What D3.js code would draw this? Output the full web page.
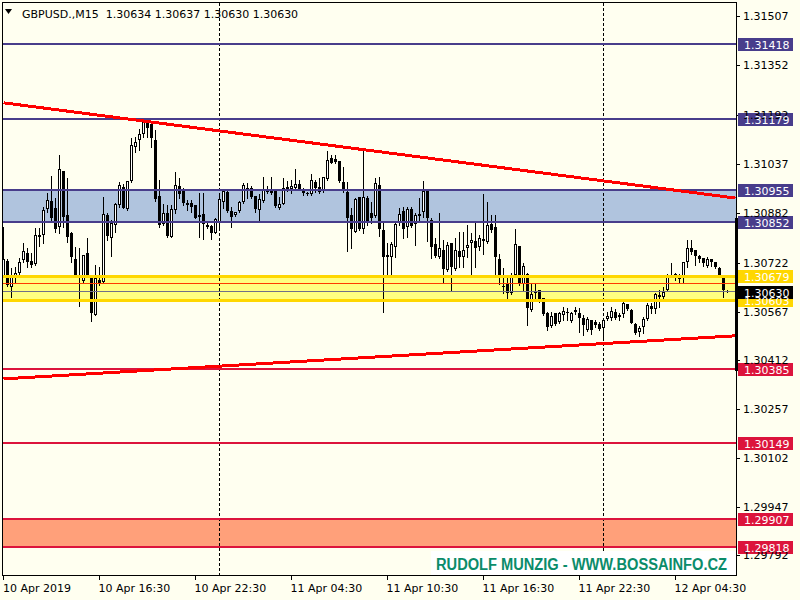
<!DOCTYPE html>
<html><head><meta charset="utf-8">
<script src="https://cdn.jsdelivr.net/npm/d3@7/dist/d3.min.js"></script>
<style>html,body{margin:0;padding:0;background:#FFFFF0;}svg{display:block;}</style>
</head><body><svg id="c" width="800" height="600"></svg>
<script>
// ---------- DATA ----------
const title = "GBPUSD.,M15  1.30634 1.30637 1.30630 1.30630";
const opens = [1.30680,1.30728,1.30645,1.30674,1.30690,1.30731,1.30753,1.30728,1.30718,1.30804,
1.30811,1.30893,1.30919,1.30897,1.30836,1.31014,1.30874,1.30817,1.30734,1.30680,
1.30664,1.30753,1.30680,1.30556,1.30668,1.30661,1.30874,1.30801,1.30842,1.30906,
1.30963,1.30893,1.30982,1.31091,1.31113,1.31132,1.31176,1.31164,1.31113,1.30935,
1.30846,1.30881,1.30804,1.30890,1.30967,1.30951,1.30912,1.30912,1.30906,1.30874,
1.30877,1.30842,1.30839,1.30817,1.30852,1.30916,1.30947,1.30887,1.30874,1.30887,
1.30916,1.30960,1.30960,1.30935,1.30890,1.30919,1.30957,1.30957,1.30951,1.30897,
1.30909,1.30963,1.30957,1.30960,1.30973,1.30954,1.30944,1.30941,1.30979,1.30963,
1.30951,1.30989,1.31056,1.31052,1.31046,1.30979,1.30947,1.30874,1.30820,1.30932,
1.30830,1.30928,1.30881,1.30871,1.30970,1.30827,1.30747,1.30741,1.30773,1.30849,
1.30887,1.30836,1.30893,1.30846,1.30877,1.30884,1.30954,1.30858,1.30782,1.30741,
1.30763,1.30699,1.30785,1.30703,1.30760,1.30741,1.30769,1.30785,1.30792,1.30773,
1.30798,1.30788,1.30846,1.30836,1.30734,1.30649,1.30655,1.30626,1.30684,1.30776,
1.30655,1.30687,1.30572,1.30633,1.30636,1.30610,1.30563,1.30521,1.30563,1.30534,
1.30556,1.30566,1.30537,1.30566,1.30563,1.30547,1.30509,1.30540,1.30534,1.30528,
1.30515,1.30544,1.30547,1.30566,1.30550,1.30559,1.30591,1.30572,1.30528,1.30502,
1.30518,1.30544,1.30585,1.30575,1.30620,1.30614,1.30636,1.30684,1.30687,1.30684,
1.30674,1.30725,1.30769,1.30763,1.30744,1.30738,1.30712,1.30734,1.30725,1.30706,
1.30677,1.30634];
const highs = [1.30836,1.30734,1.30706,1.30709,1.30738,1.30785,1.30769,1.30753,1.30833,1.30833,
1.30900,1.30944,1.30998,1.30928,1.31065,1.31014,1.30992,1.30820,1.30773,1.30769,
1.30747,1.30801,1.30680,1.30715,1.30709,1.30932,1.30881,1.30858,1.30912,1.30979,
1.30973,1.30982,1.31119,1.31122,1.31148,1.31183,1.31180,1.31170,1.31145,1.30986,
1.30909,1.30906,1.30906,1.31011,1.30992,1.30960,1.30922,1.30922,1.30906,1.30944,
1.30944,1.30849,1.30842,1.30865,1.30938,1.30954,1.30951,1.30900,1.30884,1.30919,
1.30976,1.30976,1.30967,1.30935,1.30941,1.30995,1.30967,1.30995,1.30951,1.30932,
1.30992,1.30982,1.30986,1.31021,1.30986,1.30960,1.30947,1.31005,1.30986,1.30992,
1.30995,1.31078,1.31065,1.31065,1.31046,1.31027,1.30979,1.30897,1.30928,1.30932,
1.31081,1.30935,1.30916,1.30992,1.30995,1.30849,1.30785,1.30788,1.30852,1.30897,
1.30900,1.30900,1.30900,1.30881,1.30928,1.30982,1.30957,1.30865,1.30801,1.30881,
1.30795,1.30788,1.30785,1.30801,1.30820,1.30820,1.30842,1.30817,1.30849,1.30811,
1.30941,1.30916,1.30874,1.30874,1.30750,1.30706,1.30674,1.30690,1.30830,1.30776,
1.30722,1.30690,1.30658,1.30658,1.30636,1.30610,1.30566,1.30566,1.30563,1.30566,
1.30582,1.30579,1.30566,1.30582,1.30579,1.30556,1.30550,1.30540,1.30540,1.30534,
1.30544,1.30566,1.30582,1.30575,1.30563,1.30601,1.30591,1.30575,1.30531,1.30521,
1.30550,1.30594,1.30594,1.30626,1.30636,1.30645,1.30687,1.30722,1.30690,1.30687,
1.30725,1.30795,1.30795,1.30763,1.30747,1.30738,1.30741,1.30734,1.30725,1.30709,
1.30684,1.30637];
const lows = [1.30677,1.30649,1.30614,1.30658,1.30684,1.30725,1.30709,1.30709,1.30715,1.30776,
1.30785,1.30884,1.30858,1.30820,1.30817,1.30836,1.30788,1.30725,1.30677,1.30585,
1.30661,1.30677,1.30537,1.30556,1.30652,1.30661,1.30795,1.30744,1.30820,1.30900,
1.30897,1.30890,1.30979,1.31075,1.31081,1.31122,1.31122,1.31091,1.30919,1.30836,
1.30842,1.30804,1.30804,1.30881,1.30928,1.30906,1.30890,1.30884,1.30865,1.30804,
1.30798,1.30833,1.30798,1.30817,1.30836,1.30897,1.30884,1.30836,1.30871,1.30884,
1.30912,1.30928,1.30928,1.30884,1.30858,1.30916,1.30944,1.30941,1.30900,1.30893,
1.30909,1.30951,1.30944,1.30954,1.30954,1.30938,1.30938,1.30938,1.30947,1.30944,
1.30947,1.30986,1.31040,1.31040,1.30979,1.30947,1.30760,1.30769,1.30820,1.30827,
1.30817,1.30842,1.30849,1.30868,1.30808,1.30566,1.30680,1.30677,1.30741,1.30842,
1.30801,1.30804,1.30836,1.30779,1.30855,1.30868,1.30792,1.30738,1.30741,1.30738,
1.30661,1.30696,1.30636,1.30699,1.30709,1.30709,1.30741,1.30677,1.30709,1.30763,
1.30750,1.30785,1.30820,1.30684,1.30655,1.30626,1.30604,1.30623,1.30677,1.30652,
1.30636,1.30525,1.30569,1.30604,1.30598,1.30556,1.30509,1.30518,1.30525,1.30531,
1.30540,1.30540,1.30534,1.30559,1.30502,1.30493,1.30505,1.30496,1.30518,1.30509,
1.30483,1.30540,1.30540,1.30544,1.30540,1.30550,1.30572,1.30531,1.30496,1.30490,
1.30499,1.30540,1.30563,1.30563,1.30582,1.30607,1.30633,1.30680,1.30668,1.30658,
1.30658,1.30709,1.30750,1.30715,1.30725,1.30712,1.30709,1.30712,1.30706,1.30677,
1.30614,1.30630];
const closes = [1.30734,1.30652,1.30680,1.30690,1.30725,1.30760,1.30725,1.30715,1.30811,1.30811,
1.30890,1.30922,1.30865,1.30830,1.31021,1.30868,1.30804,1.30741,1.30680,1.30674,
1.30747,1.30684,1.30563,1.30674,1.30658,1.30877,1.30808,1.30849,1.30909,1.30970,
1.30897,1.30982,1.31097,1.31106,1.31132,1.31180,1.31151,1.31119,1.30925,1.30842,
1.30881,1.30808,1.30893,1.30970,1.30941,1.30912,1.30906,1.30900,1.30865,1.30868,
1.30846,1.30836,1.30817,1.30862,1.30925,1.30951,1.30887,1.30868,1.30884,1.30916,
1.30970,1.30951,1.30932,1.30893,1.30925,1.30954,1.30947,1.30944,1.30903,1.30909,
1.30960,1.30954,1.30967,1.30973,1.30957,1.30944,1.30941,1.30986,1.30960,1.30947,
1.30995,1.31049,1.31040,1.31043,1.30982,1.30954,1.30865,1.30830,1.30925,1.30830,
1.30932,1.30852,1.30865,1.30976,1.30830,1.30741,1.30741,1.30782,1.30846,1.30877,
1.30830,1.30893,1.30839,1.30874,1.30871,1.30951,1.30865,1.30773,1.30744,1.30769,
1.30703,1.30779,1.30709,1.30763,1.30741,1.30763,1.30779,1.30795,1.30769,1.30801,
1.30792,1.30842,1.30827,1.30741,1.30680,1.30645,1.30626,1.30677,1.30782,1.30655,
1.30712,1.30579,1.30623,1.30626,1.30601,1.30559,1.30518,1.30553,1.30528,1.30563,
1.30569,1.30563,1.30563,1.30572,1.30547,1.30525,1.30544,1.30509,1.30525,1.30512,
1.30540,1.30553,1.30569,1.30547,1.30556,1.30594,1.30575,1.30531,1.30499,1.30515,
1.30544,1.30588,1.30575,1.30623,1.30614,1.30629,1.30684,1.30680,1.30677,1.30671,
1.30725,1.30769,1.30757,1.30744,1.30734,1.30722,1.30734,1.30725,1.30709,1.30684,
1.30636,1.30630];

const timeTickBars = [0, 24, 48, 72, 96, 120, 144, 168];
const timeTickLabels = ["10 Apr 2019","10 Apr 16:30","10 Apr 22:30","11 Apr 04:30","11 Apr 10:30","11 Apr 16:30","11 Apr 22:30","12 Apr 04:30"];
const daySeparatorBars = [54, 150];
const priceTicks = [1.31507,1.31352,1.31192,1.31037,1.30882,1.30722,1.30567,1.30412,1.30257,1.30102,1.29947,1.29792];
const blueLevels = [1.31418, 1.31179, 1.30955, 1.30852];
const blueZone = [1.30852, 1.30955];
const goldLevels = [1.30679, 1.30603];
const goldZone = [1.30603, 1.30679];
const redLevels = [1.30385, 1.30149, 1.29907, 1.29818];
const salmonZone = [1.29818, 1.29907];
const innerRedLevel = 1.30655;
const bidPrice = 1.30630;
const upperTrend = [[0, 1.31231], [183, 1.30928]];
const lowerTrend = [[0, 1.30353], [183, 1.30490]];
const rangeBar = [1.30378, 1.30864];
const watermark = "RUDOLF MUNZIG - WWW.BOSSAINFO.CZ";

// ---------- DRAW ----------
const svg = d3.select("#c");
const FONT = "'DejaVu Sans', Verdana, sans-serif";
const L = 3, R = 736, T = 3, B = 575;
const x = d3.scaleLinear().domain([0, 183]).range([3.5, 735.5]);
const y = d3.scaleLinear().domain([1.30149, 1.31418]).range([443, 44]);
const yr = p => Math.round(y(p));
const fmt = d3.format(".5f");

svg.append("rect").attr("width", 800).attr("height", 600).attr("fill", "#FFFFF0");

const g = svg.append("g").attr("shape-rendering", "crispEdges");

// zones (background)
[[blueZone, "#B0C4DE"], [goldZone, "#FFFF80"], [salmonZone, "#FFA07A"]].forEach(([z, c]) => {
  g.append("rect").attr("x", L).attr("width", R - L)
    .attr("y", yr(z[1])).attr("height", yr(z[0]) - yr(z[1])).attr("fill", c);
});

// day separators
g.selectAll("line.sep").data(daySeparatorBars).join("line").attr("class", "sep")
  .attr("x1", d => x(d)).attr("x2", d => x(d)).attr("y1", T).attr("y2", B)
  .attr("stroke", "#000").attr("stroke-width", 1).attr("stroke-dasharray", "3,2");

// candles
const bars = d3.range(opens.length).map(i => ({i, o: opens[i], h: highs[i], l: lows[i], c: closes[i]}));
const cg = g.append("g");
bars.forEach(b => {
  const cx = x(b.i);
  cg.append("line").attr("x1", cx).attr("x2", cx).attr("y1", yr(b.h)).attr("y2", yr(b.l) + 1)
    .attr("stroke", "#000").attr("stroke-width", 1);
  const top = yr(Math.max(b.o, b.c)), bot = yr(Math.min(b.o, b.c));
  if (b.c > b.o) {
    if (bot - top >= 2) {
      cg.append("rect").attr("x", cx - 1).attr("y", top + 0.5).attr("width", 2).attr("height", bot - top - 1)
        .attr("fill", "#fff").attr("stroke", "#000").attr("stroke-width", 1);
    } else {
      cg.append("rect").attr("x", cx - 1.5).attr("y", top).attr("width", 3).attr("height", Math.max(1, bot - top)).attr("fill", "#000");
    }
  } else {
    cg.append("rect").attr("x", cx - 1.5).attr("y", top).attr("width", 3).attr("height", Math.max(1, bot - top)).attr("fill", "#000");
  }
});

// horizontal levels
function hline(p, color, w) {
  g.append("line").attr("x1", L).attr("x2", R).attr("y1", y(p)).attr("y2", y(p))
    .attr("stroke", color).attr("stroke-width", w);
}
blueLevels.forEach(p => hline(p, "#483D8B", 2));
goldLevels.forEach(p => hline(p, "#FFD700", 3));
hline(innerRedLevel, "#FF3A00", 1);
hline(bidPrice, "#707088", 1);
redLevels.forEach(p => hline(p, "#DC143C", 2));

// trend lines
[upperTrend, lowerTrend].forEach(t => {
  g.append("line").attr("x1", x(t[0][0])).attr("y1", y(t[0][1])).attr("x2", x(t[1][0])).attr("y2", y(t[1][1]))
    .attr("stroke", "#FF0000").attr("stroke-width", 3);
});

// frame
g.append("rect").attr("x", 2.5).attr("y", 2.5).attr("width", 734).attr("height", 573)
  .attr("fill", "none").attr("stroke", "#000").attr("stroke-width", 1);

// range bar at right edge
g.append("rect").attr("x", 735).attr("width", 3).attr("y", yr(rangeBar[1])).attr("height", yr(rangeBar[0]) - yr(rangeBar[1])).attr("fill", "#000");

// watermark
g.append("rect").attr("x", 431).attr("y", 551).attr("width", 305).attr("height", 24).attr("fill", "#FFFFFF");
svg.append("text").attr("x", 436).attr("y", 570).text(watermark)
  .attr("font-family", "'Liberation Sans', Arial, sans-serif").attr("font-weight", "bold").attr("font-size", 16)
  .attr("textLength", 291).attr("lengthAdjust", "spacingAndGlyphs").attr("fill", "#0B8C6A");

// price axis
g.selectAll("line.pt").data(priceTicks).join("line").attr("class", "pt")
  .attr("x1", 737).attr("x2", 740).attr("y1", d => yr(d) + 0.5).attr("y2", d => yr(d) + 0.5).attr("stroke", "#000");
svg.selectAll("text.pt").data(priceTicks).join("text").attr("class", "pt")
  .attr("x", 743).attr("y", d => y(d) + 4).text(d => fmt(d))
  .attr("font-family", FONT).attr("font-size", 11).attr("fill", "#000");

// boxed labels
function boxLabel(p, bg) {
  const cy = yr(p);
  g.append("rect").attr("x", 738).attr("y", cy - 6).attr("width", 55).attr("height", 13).attr("fill", bg);
  svg.append("text").attr("x", 744).attr("y", cy + 4.5).text(fmt(p))
    .attr("font-family", FONT).attr("font-size", 11).attr("fill", "#fff");
}
blueLevels.forEach(p => boxLabel(p, "#483D8B"));
goldLevels.forEach(p => boxLabel(p, "#FFD700"));
redLevels.forEach(p => boxLabel(p, "#DC143C"));
boxLabel(bidPrice, "#000");

// time axis
g.selectAll("line.tt").data(timeTickBars).join("line").attr("class", "tt")
  .attr("x1", d => x(d)).attr("x2", d => x(d)).attr("y1", B + 1).attr("y2", B + 5).attr("stroke", "#000");
svg.selectAll("text.tt").data(timeTickBars).join("text").attr("class", "tt")
  .attr("x", d => Math.max(3, x(d) - 1)).attr("y", 592).text((d, i) => timeTickLabels[i])
  .attr("font-family", FONT).attr("font-size", 11).attr("fill", "#000");

// header
svg.append("path").attr("d", "M5,9 L12,9 L8.5,14 Z").attr("fill", "#000");
svg.append("text").attr("x", 22).attr("y", 18).text(title).style("white-space", "pre")
  .attr("font-family", FONT).attr("font-size", 11).attr("fill", "#000");
</script></body></html>
